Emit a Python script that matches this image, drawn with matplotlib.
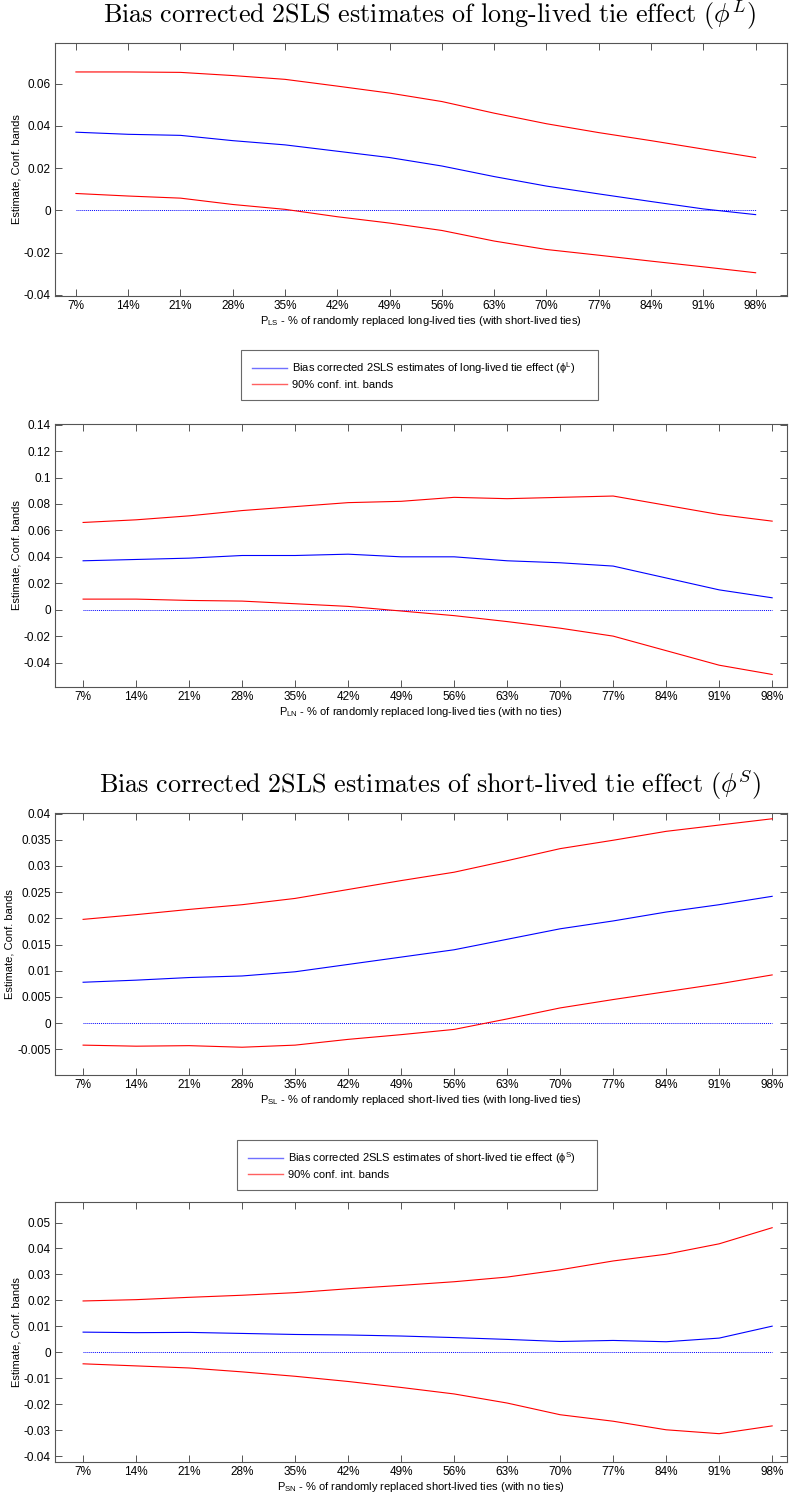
import matplotlib
matplotlib.use("Agg")
import matplotlib.pyplot as plt
from matplotlib.ticker import FuncFormatter
from matplotlib.lines import Line2D

plt.rcParams['font.family'] = ['Liberation Sans', 'DejaVu Sans']
plt.rcParams['mathtext.fontset'] = 'dejavusans'

# ---------------- data ----------------
pct_labels = ['7%', '14%', '21%', '28%', '35%', '42%', '49%', '56%', '63%', '70%', '77%', '84%', '91%', '98%']
x_idx = list(range(1, 15))

# Panel 1: P_LS
p1_est = [0.037, 0.036, 0.0355, 0.033, 0.031, 0.028, 0.025, 0.021, 0.016, 0.0115, 0.0078, 0.0042, 0.0007, -0.002]
p1_up = [0.0655, 0.0655, 0.0653, 0.0638, 0.062, 0.0588, 0.0555, 0.0515, 0.046, 0.041, 0.0368, 0.033, 0.029, 0.025]
p1_lo = [0.008, 0.0068, 0.0058, 0.0028, 0.0005, -0.003, -0.006, -0.0095, -0.0145, -0.0185, -0.0212, -0.024, -0.0267, -0.0295]

# Panel 2: P_LN
p2_est = [0.037, 0.038, 0.039, 0.041, 0.041, 0.042, 0.040, 0.040, 0.037, 0.0355, 0.033, 0.024, 0.015, 0.009]
p2_up = [0.066, 0.068, 0.071, 0.075, 0.078, 0.081, 0.082, 0.085, 0.084, 0.085, 0.086, 0.079, 0.072, 0.067]
p2_lo = [0.008, 0.008, 0.007, 0.0065, 0.0045, 0.0025, -0.001, -0.0045, -0.009, -0.014, -0.020, -0.031, -0.042, -0.049]

# Panel 3: P_SL
p3_est = [0.0078, 0.0082, 0.0087, 0.009, 0.0098, 0.0112, 0.0126, 0.014, 0.016, 0.018, 0.0195, 0.0212, 0.0226, 0.0242]
p3_up = [0.0198, 0.0207, 0.0217, 0.0226, 0.0238, 0.0255, 0.0272, 0.0288, 0.031, 0.0333, 0.0349, 0.0366, 0.0378, 0.039]
p3_lo = [-0.0042, -0.0044, -0.0043, -0.0046, -0.0042, -0.0031, -0.0022, -0.0012, 0.0008, 0.0029, 0.0045, 0.006, 0.0075, 0.0092]

# Panel 4: P_SN
p4_est = [0.0078, 0.0076, 0.0077, 0.0073, 0.0069, 0.0067, 0.0063, 0.0057, 0.005, 0.0042, 0.0046, 0.0041, 0.0055, 0.0101]
p4_up = [0.0198, 0.0203, 0.0212, 0.022, 0.023, 0.0245, 0.0258, 0.0272, 0.029, 0.0318, 0.0352, 0.0378, 0.0418, 0.048]
p4_lo = [-0.0044, -0.0052, -0.006, -0.0075, -0.0092, -0.0112, -0.0135, -0.016, -0.0195, -0.024, -0.0265, -0.0298, -0.0313, -0.0283]

p1_yticks = [-0.04, -0.02, 0, 0.02, 0.04, 0.06]
p2_yticks = [-0.04, -0.02, 0, 0.02, 0.04, 0.06, 0.08, 0.1, 0.12, 0.14]
p3_yticks = [-0.005, 0, 0.005, 0.01, 0.015, 0.02, 0.025, 0.03, 0.035, 0.04]
p4_yticks = [-0.04, -0.03, -0.02, -0.01, 0, 0.01, 0.02, 0.03, 0.04, 0.05]

xlabels = [r'P$_{\mathregular{LS}}$ - % of randomly replaced long-lived ties (with short-lived ties)',
           r'P$_{\mathregular{LN}}$ - % of randomly replaced long-lived ties (with no ties)',
           r'P$_{\mathregular{SL}}$ - % of randomly replaced short-lived ties (with long-lived ties)',
           r'P$_{\mathregular{SN}}$ - % of randomly replaced short-lived ties (with no ties)']

title_L = r'$\mathrm{Bias\ corrected\ 2SLS\ estimates\ of\ long\text{-}lived\ tie\ effect\ }(\phi^L)$'
title_S = r'$\mathrm{Bias\ corrected\ 2SLS\ estimates\ of\ short\text{-}lived\ tie\ effect\ }(\phi^S)$'
leg_L = [r'Bias corrected 2SLS estimates of long-lived tie effect ($\mathregular{\phi^L}$)', '90% conf. int. bands']
leg_S = [r'Bias corrected 2SLS estimates of short-lived tie effect ($\mathregular{\phi^S}$)', '90% conf. int. bands']

# ---------------- layout ----------------
W, H = 790, 1497
fig = plt.figure(figsize=(W / 100, H / 100), dpi=100)

def rect(left, top, right, bottom):
    return [left / W, 1 - bottom / H, (right - left) / W, (bottom - top) / H]

panels = [
    dict(r=rect(55, 43, 787, 296), est=p1_est, up=p1_up, lo=p1_lo, yt=p1_yticks, ylim=(-0.0405, 0.0792), xlim=(0.6, 14.6)),
    dict(r=rect(55, 424, 787, 687), est=p2_est, up=p2_up, lo=p2_lo, yt=p2_yticks, ylim=(-0.0585, 0.1405), xlim=(0.47, 14.28)),
    dict(r=rect(55, 813, 787, 1075), est=p3_est, up=p3_up, lo=p3_lo, yt=p3_yticks, ylim=(-0.0099, 0.0401), xlim=(0.47, 14.28)),
    dict(r=rect(55, 1202, 787, 1462), est=p4_est, up=p4_up, lo=p4_lo, yt=p4_yticks, ylim=(-0.0422, 0.0579), xlim=(0.47, 14.28)),
]

fmt = FuncFormatter(lambda v, p: f'{round(v, 6):g}')
spine_col = '#555555'
FS = 8

for i, pdict in enumerate(panels):
    ax = fig.add_axes(pdict['r'])
    ax.plot(x_idx, [0] * len(x_idx), color='#0000ff', lw=0.7, ls=(0, (1, 1)))
    ax.plot(x_idx, pdict['up'], color='#ff0000', lw=0.8)
    ax.plot(x_idx, pdict['lo'], color='#ff0000', lw=0.8)
    ax.plot(x_idx, pdict['est'], color='#0000ff', lw=0.8)
    ax.set_xlim(*pdict['xlim'])
    ax.set_ylim(*pdict['ylim'])
    ax.set_xticks(x_idx)
    ax.set_xticklabels(pct_labels)
    ax.set_yticks(pdict['yt'])
    ax.yaxis.set_major_formatter(fmt)
    ax.tick_params(direction='in', top=True, right=True, length=5, width=0.7,
                   labelsize=FS + 0.5, color=spine_col, pad=3)
    for s in ax.spines.values():
        s.set_color(spine_col)
        s.set_linewidth(0.8)
    ax.set_xlabel(xlabels[i], fontsize=FS, labelpad=1.5)
    ax.set_ylabel('Estimate, Conf. bands', fontsize=FS, labelpad=2)

# titles
fig.text(430 / W, 1 - 15 / H, title_L, ha='center', va='center', fontsize=18.8, math_fontfamily='cm')
fig.text(430 / W, 1 - 785 / H, title_S, ha='center', va='center', fontsize=18.8, math_fontfamily='cm')

# legends
handles = [Line2D([], [], color='#7070ff', lw=1.0), Line2D([], [], color='#ff6060', lw=1.0)]
for labels, (lx, ly, rx) in [(leg_L, (241, 350, 598)), (leg_S, (237, 1140, 597))]:
    lg = fig.legend(handles, labels, loc='upper left',
                    bbox_to_anchor=(lx / W, 1 - (ly + 46) / H, (rx - lx) / W, 46 / H),
                    mode='expand', fontsize=FS, frameon=True, fancybox=False, borderaxespad=0,
                    handlelength=3.2, handletextpad=0.45, borderpad=0.95, labelspacing=0.3)
    fr = lg.get_frame()
    fr.set_edgecolor('#444444')
    fr.set_linewidth(0.8)

fig.savefig('out.png', dpi=100)
